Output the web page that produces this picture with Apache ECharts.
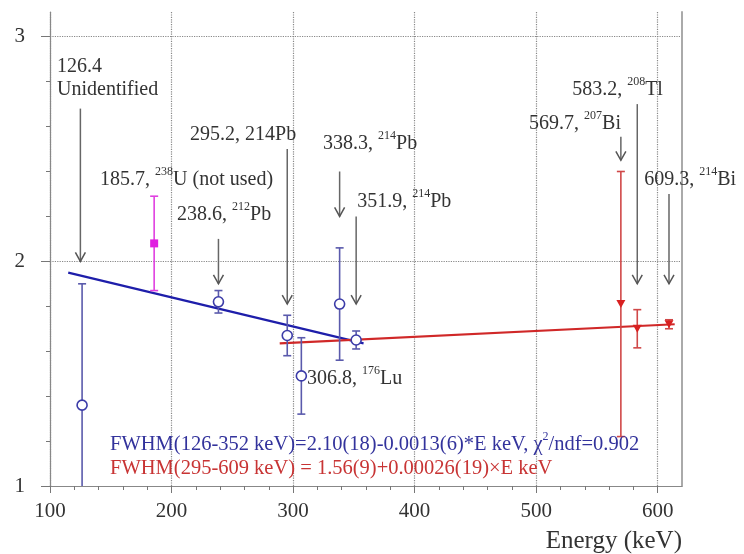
<!DOCTYPE html>
<html>
<head>
<meta charset="utf-8">
<script src="https://cdn.jsdelivr.net/npm/echarts@6/dist/echarts.min.js"></script>
<style>
  html, body { margin: 0; padding: 0; background: #fff; }
  #main { width: 744px; height: 554px; }
</style>
</head>
<body>
<div id="main"></div>
<script>
// data (energy in keV, FWHM in keV)
var blueE   = [126.4, 238.6, 295.2, 306.8, 338.3, 351.9];
var blueF   = [1.36, 1.82, 1.67, 1.49, 1.81, 1.65];
var blueErr = [0.54, 0.05, 0.09, 0.17, 0.25, 0.04];

var magE   = [185.7];
var magF   = [2.08];
var magErr = [0.21];

var redE   = [569.7, 583.2, 609.3];
var redF   = [1.81, 1.70, 1.72];
var redErr = [0.59, 0.085, 0.02];

// fit line end points
var blueFit = [[115, 1.95], [358, 1.635]];
var redFit  = [[289, 1.635], [614, 1.72]];

var xTicks = [100, 200, 300, 400, 500, 600];
var yTicks = [1, 2, 3];

// arrows: energy, from, to
var arrows = [
  [125, 2.68, 2.0],
  [238.6, 2.10, 1.90],
  [295.2, 2.50, 1.81],
  [338.3, 2.40, 2.20],
  [351.9, 2.20, 1.81],
  [569.7, 2.555, 2.45],
  [583.2, 2.70, 1.90],
  [609.3, 2.30, 1.90]
];

// annotation texts: left energy, FWHM level, rich text
var notes = [
  [105.8, 2.875, '{a|126.4}'],
  [105.8, 2.773, '{a|Unidentified}'],
  [141.2, 2.372, '{a|185.7, }{s|238}{a|U (not used)}'],
  [204.5, 2.216, '{a|238.6, }{s|212}{a|Pb}'],
  [215.2, 2.572, '{a|295.2, 214Pb}'],
  [324.7, 2.532, '{a|338.3, }{s|214}{a|Pb}'],
  [352.7, 2.274, '{a|351.9, }{s|214}{a|Pb}'],
  [529.6, 2.773, '{a|583.2, }{s|208}{a|Tl}'],
  [494.2, 2.621, '{a|569.7, }{s|207}{a|Bi}'],
  [588.9, 2.372, '{a|609.3, }{s|214}{a|Bi}'],
  [311.5, 1.486, '{a|306.8, }{s|176}{a|Lu}'],
  [149.4, 1.19, '{b|FWHM(126-352 keV)=2.10(18)-0.0013(6)*E keV, \u03c7}{bs|2}{b|/ndf=0.902}'],
  [149.4, 1.085, '{r|FWHM(295-609 keV) = 1.56(9)+0.00026(19)\u00d7E keV}']
];

var serif = '"Liberation Serif", "DejaVu Serif", serif';

function zip(xs, ys, es) {
  return xs.map(function (x, i) { return [x, ys[i], es[i]]; });
}

function errRender(kind, barColor, markColor) {
  return function (params, api) {
    var x = api.value(0), y = api.value(1), e = api.value(2);
    var p = api.coord([x, y]);
    var t = api.coord([x, y + e]);
    var b = api.coord([x, y - e]);
    var cw = 4;
    var kids = [
      { type: 'line', shape: { x1: p[0], y1: t[1], x2: p[0], y2: b[1] }, style: { stroke: barColor, lineWidth: 1.6 } },
      { type: 'line', shape: { x1: p[0] - cw, y1: t[1], x2: p[0] + cw, y2: t[1] }, style: { stroke: barColor, lineWidth: 1.6 } },
      { type: 'line', shape: { x1: p[0] - cw, y1: b[1], x2: p[0] + cw, y2: b[1] }, style: { stroke: barColor, lineWidth: 1.6 } }
    ];
    if (kind === 'circle') {
      kids.push({ type: 'circle', shape: { cx: p[0], cy: p[1], r: 5 }, style: { fill: '#fff', stroke: markColor, lineWidth: 1.6 } });
    } else if (kind === 'square') {
      kids.push({ type: 'rect', shape: { x: p[0] - 4, y: p[1] - 4, width: 8, height: 8 }, style: { fill: markColor } });
    } else {
      kids.push({ type: 'polygon', shape: { points: [[p[0] - 4.5, p[1] - 4], [p[0] + 4.5, p[1] - 4], [p[0], p[1] + 4]] }, style: { fill: markColor } });
    }
    return { type: 'group', children: kids };
  };
}

function arrowRender(params, api) {
  var x = api.value(0);
  var a = api.coord([x, api.value(1)]);
  var b = api.coord([x, api.value(2)]);
  return {
    type: 'group',
    children: [
      { type: 'line', shape: { x1: a[0], y1: a[1], x2: b[0], y2: b[1] }, style: { stroke: '#666', lineWidth: 1.5 } },
      { type: 'polyline', shape: { points: [[b[0] - 5, b[1] - 9], [b[0], b[1]], [b[0] + 5, b[1] - 9]] }, style: { stroke: '#555', lineWidth: 1.5, fill: null } }
    ]
  };
}

var rich = {
  a: { fontFamily: serif, fontSize: 20, fill: '#333', lineHeight: 24, verticalAlign: 'bottom' },
  s: { fontFamily: serif, fontSize: 12, fill: '#333', lineHeight: 24, verticalAlign: 'top' },
  b: { fontFamily: serif, fontSize: 20.5, fill: '#33339c', lineHeight: 24, verticalAlign: 'bottom' },
  bs: { fontFamily: serif, fontSize: 12, fill: '#33339c', lineHeight: 24, verticalAlign: 'top' },
  r: { fontFamily: serif, fontSize: 20.5, fill: '#c83434', lineHeight: 24, verticalAlign: 'bottom' }
};

function noteRender(params, api) {
  var i = params.dataIndex;
  var p = api.coord([api.value(0), api.value(1)]);
  return {
    type: 'text',
    x: p[0], y: p[1],
    style: { text: notes[i][2], rich: rich, align: 'left', verticalAlign: 'middle' }
  };
}

var myChart = echarts.init(document.getElementById('main'));

var option = {
  animation: false,
  grid: { left: 50, right: 62, top: 12, bottom: 68 },
  xAxis: {
    type: 'value', min: 100, max: 620, interval: 100,
    name: 'Energy (keV)', nameLocation: 'end', nameGap: 0,
    nameTextStyle: { fontFamily: serif, fontSize: 25, color: '#333', align: 'right', verticalAlign: 'top', padding: [43, 0, 0, 0] },
    axisLine: { lineStyle: { color: '#888', width: 1.2 } },
    axisTick: { length: 7, customValues: xTicks, lineStyle: { color: '#777' } },
    minorTick: { show: true, splitNumber: 5, length: 4, lineStyle: { color: '#777' } },
    axisLabel: { fontFamily: serif, fontSize: 21, color: '#333', margin: 15, customValues: xTicks },
    splitLine: { show: true, lineStyle: { type: 'dotted', color: '#888', width: 1.2 } }
  },
  yAxis: [{
    type: 'value', min: 1, max: 3.11, interval: 1,
    axisLine: { show: true, lineStyle: { color: '#888', width: 1.2 } },
    axisTick: { show: true, length: 9, customValues: yTicks, lineStyle: { color: '#777' } },
    minorTick: { show: true, splitNumber: 5, length: 4, lineStyle: { color: '#777' } },
    axisLabel: { fontFamily: serif, fontSize: 21, color: '#333', margin: 25, customValues: yTicks },
    splitLine: { show: true, lineStyle: { type: 'dotted', color: '#888', width: 1.2 } }
  }, {
    type: 'value', min: 1, max: 3.11, position: 'right',
    axisLine: { show: true, lineStyle: { color: '#aaa', width: 2 } },
    axisTick: { show: false }, axisLabel: { show: false }, splitLine: { show: false }
  }],
  series: [
    { type: 'line', data: blueFit, symbol: 'none', lineStyle: { color: '#1e1eaa', width: 2.2 }, z: 3 },
    { type: 'line', data: redFit, symbol: 'none', lineStyle: { color: '#d02828', width: 2.2 }, z: 3 },
    { type: 'custom', renderItem: arrowRender, data: arrows, z: 2 },
    { type: 'custom', renderItem: errRender('circle', '#5a5aac', '#3c3ca8'), data: zip(blueE, blueF, blueErr), clip: true, z: 4 },
    { type: 'custom', renderItem: errRender('square', '#e040e0', '#e020e0'), data: zip(magE, magF, magErr), clip: true, z: 4 },
    { type: 'custom', renderItem: errRender('tri', '#d04848', '#d82020'), data: zip(redE, redF, redErr), clip: true, z: 4 },
    { type: 'custom', renderItem: noteRender, data: notes.map(function (n) { return [n[0], n[1]]; }), z: 5 }
  ]
};

myChart.setOption(option);
window.addEventListener('resize', function () { myChart.resize(); });
</script>
</body>
</html>
